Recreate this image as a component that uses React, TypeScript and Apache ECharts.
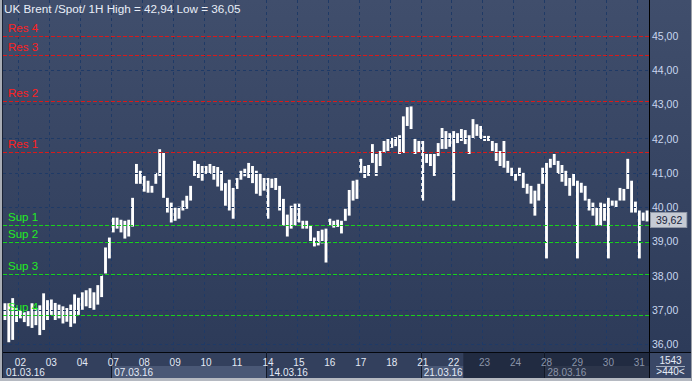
import React, { useEffect, useRef } from 'react';
import * as echarts from 'echarts';

// ---------- data ----------
const instrument = 'UK Brent /Spot/ 1H';
const days = ['01', '02', '03', '04', '07', '08', '09', '10', '11', '14', '15', '16', '17', '18', '21', '22', '23', '24', '28', '29', '30', '31'];
const barsPerDay = [4, 8, 8, 8, 8, 8, 8, 8, 8, 8, 8, 8, 8, 8, 8, 8, 8, 8, 8, 8, 8, 3];
const weekStartDays = ['01', '07', '14', '21', '28'];
const weekLabels = ['01.03.16', '07.03.16', '14.03.16', '21.03.16', '28.03.16'];
const highlightedWeeks = ['07', '21'];
const activeEndDay = '22';
const activeEndBar = 3;

const lows = [
  36.70, 36.05, 36.12, 36.64,
  36.75, 36.64, 36.52, 36.47, 36.55, 36.26, 36.41, 36.70,
  36.85, 36.70, 36.75, 36.60, 36.65, 36.50, 36.60, 36.85,
  37.00, 37.10, 37.05, 37.00, 37.15, 37.37, 38.06, 38.50,
  39.26, 39.37, 39.26, 39.08, 39.14, 39.43, 40.68, 40.68,
  40.45, 40.42, 40.42, 40.68, 40.91, 40.27, 39.84, 39.55,
  39.60, 39.66, 39.90, 39.95, 40.19, 40.91, 40.85, 40.77,
  40.97, 40.97, 40.80, 40.60, 40.48, 40.04, 39.90, 39.66,
  40.53, 40.80, 40.90, 40.85, 40.70, 40.39, 40.33, 40.48,
  39.66, 40.56, 40.50, 39.90, 39.46, 39.14, 39.37, 39.46,
  39.55, 39.37, 39.37, 38.97, 38.85, 38.88, 38.94, 38.38,
  39.45, 39.40, 39.42, 39.23, 39.60, 39.75, 40.19, 40.24,
  41.00, 40.85, 40.91, 41.29, 40.91, 41.20, 41.58, 41.64,
  41.73, 41.78, 41.55, 41.58, 42.37, 42.28, 41.55, 41.58,
  40.19, 41.29, 41.20, 40.91, 41.49, 41.70, 41.70, 41.76,
  40.19, 41.87, 41.93, 41.84, 41.55, 41.99, 42.08, 41.99,
  41.93, 41.93, 41.64, 41.35, 41.20, 41.15, 41.00, 40.91,
  40.77, 40.91, 40.56, 40.39, 40.10, 39.75, 40.19, 40.68,
  38.50, 41.15, 41.23, 40.97, 40.74, 40.62, 40.33, 40.62,
  38.50, 40.42, 40.19, 39.90, 39.75, 39.46, 39.46, 39.60,
  38.50, 40.04, 39.98, 40.19, 40.19, 40.53, 39.84, 39.84,
  38.50, 39.60, 39.58,
];

const highs = [
  37.19, 37.19, 37.34, 37.05,
  36.99, 36.93, 36.96, 37.19, 37.05, 37.13, 37.48, 37.28,
  37.30, 37.20, 37.15, 37.10, 37.05, 37.15, 37.45, 37.35,
  37.51, 37.57, 37.63, 37.51, 37.72, 38.00, 38.82, 39.11,
  39.69, 39.69, 39.63, 39.60, 39.63, 40.27, 41.26, 41.06,
  40.91, 40.77, 40.62, 41.00, 41.69, 41.58, 40.27, 40.13,
  39.98, 40.01, 40.19, 40.33, 40.62, 41.35, 41.26, 41.20,
  41.20, 41.26, 41.20, 41.17, 41.06, 40.70, 40.80, 40.56,
  40.85, 41.06, 41.12, 41.29, 41.20, 41.06, 40.97, 40.85,
  40.85, 40.83, 40.85, 40.62, 40.24, 39.78, 40.04, 40.10,
  40.10, 39.60, 39.60, 39.46, 39.11, 39.30, 39.34, 39.37,
  39.66, 39.60, 39.63, 39.60, 39.95, 40.50, 40.77, 40.80,
  41.41, 41.20, 41.23, 41.84, 41.55, 41.64, 41.93, 41.99,
  42.02, 42.05, 42.10, 42.65, 42.92, 42.94, 41.99, 41.93,
  41.93, 41.55, 41.55, 41.55, 41.87, 42.31, 42.22, 42.16,
  42.22, 42.16, 42.28, 42.25, 42.10, 42.57, 42.42, 42.37,
  42.08, 42.08, 41.93, 41.87, 41.64, 41.93, 41.35, 41.15,
  40.97, 41.15, 41.00, 40.68, 40.62, 40.48, 40.68, 41.15,
  41.29, 41.41, 41.55, 41.35, 41.23, 41.06, 40.85, 40.97,
  40.77, 40.71, 40.62, 40.24, 40.13, 39.98, 40.13, 40.10,
  40.27, 40.19, 40.19, 40.56, 40.53, 41.41, 40.77, 40.16,
  39.90, 39.84, 39.90,
];

const priceTicks = [36, 37, 38, 39, 40, 41, 42, 43, 44, 45];
const resistanceNames = ['Res 4', 'Res 3', 'Res 2', 'Res 1'];
const resistanceLevels = [45.0, 44.45, 43.1, 41.6];
const supportNames = ['Sup 1', 'Sup 2', 'Sup 3', 'Sup 4'];
const supportLevels = [39.47, 38.97, 38.04, 36.84];
const lastPrice = 39.62;
const footerCount = '1543';
const footerRange = '>440<';

// ---------- derived ----------
const cats: string[] = [];
const dayStart: Record<string, number> = {};
days.forEach((d, di) => {
  dayStart[d] = cats.length;
  for (let k = 0; k < barsPerDay[di]; k++) cats.push(d + '#' + k);
});
const catIndex = new Map(cats.map((c, i) => [c, i] as [string, number]));
const darkStart = dayStart[activeEndDay] + activeEndBar;
const weekStartIdx = weekStartDays.map((d) => dayStart[d]);
const fmt = (v: number) => v.toFixed(2).replace('.', ',');
const maxHigh = Math.max(...highs);
const minLow = Math.min(...lows);

const W = 692;
const H = 381;
const GRID_LEFT = 3;
const GRID_RIGHT = 43;
const GRID_BOTTOM = 29;
const FONT = 'Liberation Sans, Arial, sans-serif';
const plotRight = W - GRID_RIGHT;
const axisY = H - GRID_BOTTOM;
const stripBottom = H - 3;

export default function App() {
  const ref = useRef<HTMLDivElement>(null);

  useEffect(() => {
    const chart = echarts.init(ref.current!, null, { renderer: 'svg' });

    const levelLine = (names: string[], levels: number[], color: string, textColor: string) =>
      levels.map((v, i) => ({
        yAxis: v,
        name: names[i],
        lineStyle: { color, type: [4, 2], width: 1 },
        label: {
          show: true,
          position: 'insideStartTop',
          formatter: '{b}',
          color: textColor,
          fontSize: 11.5,
          fontFamily: FONT,
          distance: [5, 2],
        },
      }));

    const option: any = {
      animation: false,
      backgroundColor: 'transparent',
      title: {
        text: `${instrument} High = ${fmt(maxHigh)} Low = ${fmt(minLow)}`,
        left: 4,
        top: 2,
        padding: 0,
        textStyle: { color: '#e9eef8', fontSize: 11.7, fontWeight: 'normal', fontFamily: FONT },
      },
      grid: { left: GRID_LEFT, right: GRID_RIGHT, top: 0, bottom: GRID_BOTTOM, containLabel: false },
      xAxis: [
        {
          type: 'category',
          data: cats,
          boundaryGap: true,
          position: 'bottom',
          z: 5,
          axisLine: { show: true, lineStyle: { color: '#04070d', width: 1 } },
          axisTick: {
            show: true,
            interval: (i: number) => i > 0 && weekStartIdx.includes(i),
            length: 26,
            lineStyle: { color: '#111827', width: 1 },
          },
          axisLabel: {
            interval: (i: number, v: string) => i > 0 && v.endsWith('#0'),
            formatter: (v: string) => v.split('#')[0],
            color: (v: string) => ((catIndex.get(v) ?? 0) >= darkStart ? '#8a94a9' : '#e3eaf6'),
            fontSize: 10,
            fontFamily: FONT,
            margin: 5,
          },
          splitLine: {
            show: true,
            interval: (i: number, v: string) => i > 0 && v.endsWith('#0'),
            lineStyle: { color: '#1f3a66', type: [3, 3], width: 1 },
          },
        },
        {
          type: 'category',
          data: cats,
          boundaryGap: true,
          position: 'bottom',
          offset: 13,
          z: 5,
          axisLine: { show: false },
          axisTick: { show: false },
          splitLine: { show: false },
          axisLabel: {
            interval: (i: number) => weekStartIdx.includes(i),
            formatter: (v: string) => weekLabels[weekStartDays.indexOf(v.split('#')[0])] ?? '',
            color: (v: string) => ((catIndex.get(v) ?? 0) >= darkStart ? '#8a94a9' : '#e3eaf6'),
            align: 'left',
            fontSize: 10,
            fontFamily: FONT,
            margin: 2,
            padding: [0, 0, 0, 1],
          },
        },
      ],
      yAxis: {
        type: 'value',
        position: 'right',
        min: 35.766,
        max: 46.05,
        z: 5,
        axisLine: { show: true, lineStyle: { color: '#000000', width: 1 } },
        axisTick: { show: false },
        axisLabel: { show: false },
        splitLine: { show: false },
      },
      series: [
        {
          type: 'line',
          data: [],
          z: 1,
          silent: true,
          markLine: {
            silent: true,
            animation: false,
            symbol: ['none', 'none'],
            lineStyle: { color: '#1f3a66', type: [3, 3], width: 1 },
            label: {
              show: true,
              position: 'end',
              distance: 3,
              formatter: (p: any) => fmt(Number(p.value)),
              color: '#c9d7ef',
              fontSize: 10.5,
              fontFamily: FONT,
            },
            data: priceTicks.map((v) => ({ yAxis: v })),
          },
        },
        {
          type: 'custom',
          z: 3,
          clip: true,
          encode: { x: 0, y: [1, 2] },
          data: cats.map((c, i) => [i, lows[i], highs[i]]),
          renderItem: (params: any, api: any) => {
            const i = api.value(0);
            const lo = api.coord([i, api.value(1)]);
            const hi = api.coord([i, api.value(2)]);
            const bw = api.size([1, 0])[0] * 0.74;
            return {
              type: 'rect',
              shape: { x: lo[0] - bw / 2, y: hi[1], width: bw, height: Math.max(1, lo[1] - hi[1]) },
              style: { fill: '#ffffff' },
            };
          },
        },
        {
          type: 'line',
          data: [],
          z: 4,
          silent: true,
          markLine: {
            silent: true,
            animation: false,
            symbol: ['none', 'none'],
            data: [
              ...levelLine(resistanceNames, resistanceLevels, '#d81a1a', '#ff1f1f'),
              ...levelLine(supportNames, supportLevels, '#19d219', '#22ee22'),
              {
                yAxis: lastPrice,
                lineStyle: { color: 'rgba(0,0,0,0)', width: 0 },
                label: {
                  show: true,
                  position: 'end',
                  distance: 2,
                  formatter: fmt(lastPrice),
                  color: '#17223a',
                  backgroundColor: '#c6cbd4',
                  borderColor: '#8f97a6',
                  borderWidth: 1,
                  padding: [2, 4, 1, 5],
                  fontSize: 10.5,
                  fontFamily: FONT,
                },
              },
            ],
          },
        },
      ],
    };

    chart.setOption(option);

    const c0 = chart.convertToPixel({ xAxisIndex: 0 }, 0) as number;
    const c1 = chart.convertToPixel({ xAxisIndex: 0 }, 1) as number;
    const band = c1 - c0;
    const edge = (i: number) =>
      i >= cats.length ? plotRight : (chart.convertToPixel({ xAxisIndex: 0 }, i) as number) - band / 2;
    const darkX = edge(darkStart);
    const rowMid = axisY + 14;

    const graphics: any[] = [
      {
        type: 'rect',
        z: -100,
        silent: true,
        shape: { x: 0, y: 0, width: W, height: H },
        style: {
          fill: {
            type: 'linear', x: 0, y: 0, x2: 0, y2: 1,
            colorStops: [
              { offset: 0, color: '#404e6c' },
              { offset: 0.92, color: '#2d3b59' },
              { offset: 1, color: '#2b3857' },
            ],
          },
        },
      },
      {
        type: 'rect', z: -90, silent: true,
        shape: { x: 0, y: axisY, width: W, height: stripBottom - axisY },
        style: { fill: '#33405d' },
      },
    ];

    highlightedWeeks.forEach((d) => {
      const s = dayStart[d];
      const wi = weekStartDays.indexOf(d);
      const nextStart = wi + 1 < weekStartDays.length ? dayStart[weekStartDays[wi + 1]] : cats.length;
      const end = s < darkStart && nextStart > darkStart ? darkStart : nextStart;
      const x0 = edge(s);
      const x1 = edge(end);
      graphics.push({
        type: 'rect', z: -85, silent: true,
        shape: { x: x0, y: rowMid, width: x1 - x0, height: stripBottom - rowMid },
        style: { fill: '#4a5876' },
      });
    });

    graphics.push({
      type: 'rect', z: -80, silent: true,
      shape: { x: darkX, y: axisY, width: plotRight - darkX, height: stripBottom - axisY },
      style: { fill: 'rgba(8,12,26,0.40)' },
    });
    const lastWeek = dayStart[weekStartDays[weekStartDays.length - 1]];
    if (lastWeek >= darkStart) {
      const lx = edge(lastWeek);
      graphics.push({
        type: 'rect', z: -79, silent: true,
        shape: { x: lx, y: rowMid, width: plotRight - lx, height: stripBottom - rowMid },
        style: { fill: 'rgba(255,255,255,0.05)' },
      });
    }

    graphics.push(
      {
        type: 'rect', z: -78, silent: true,
        shape: { x: plotRight, y: axisY, width: W - plotRight, height: stripBottom - axisY },
        style: { fill: '#3a4867' },
      },
      {
        type: 'line', z: 10, silent: true,
        shape: { x1: plotRight + 0.5, y1: axisY, x2: plotRight + 0.5, y2: stripBottom },
        style: { stroke: '#05080f', lineWidth: 1 },
      },
      {
        type: 'line', z: 10, silent: true,
        shape: { x1: plotRight, y1: axisY + 0.5, x2: W, y2: axisY + 0.5 },
        style: { stroke: '#05080f', lineWidth: 1 },
      },
      {
        type: 'text', z: 10, silent: true,
        x: (plotRight + W) / 2, y: axisY + 8,
        style: { text: footerCount, fill: '#e6ecf7', fontSize: 10, fontFamily: FONT, align: 'center', verticalAlign: 'middle' },
      },
      {
        type: 'line', z: 10, silent: true,
        shape: { x1: plotRight + 7, y1: axisY + 14.5, x2: W - 7, y2: axisY + 14.5 },
        style: { stroke: '#a5aec0', lineWidth: 1 },
      },
      {
        type: 'text', z: 10, silent: true,
        x: (plotRight + W) / 2, y: axisY + 19.5,
        style: { text: footerRange, fill: '#e6ecf7', fontSize: 10, fontFamily: FONT, align: 'center', verticalAlign: 'middle' },
      },
      {
        type: 'rect', z: 20, silent: true,
        shape: { x: 0, y: 0, width: 2, height: H },
        style: { fill: '#a9adb5' },
      },
      {
        type: 'rect', z: 20, silent: true,
        shape: { x: 2, y: 0, width: 1, height: H },
        style: { fill: '#1a2234' },
      },
      {
        type: 'rect', z: 20, silent: true,
        shape: { x: 0, y: stripBottom, width: W, height: H - stripBottom },
        style: { fill: '#b5b9c1' },
      },
      {
        type: 'rect', z: 20, silent: true,
        shape: { x: W - 1, y: 0, width: 1, height: H },
        style: { fill: '#9a9fa8' },
      }
    );

    chart.setOption({ graphic: graphics });

    return () => chart.dispose();
  }, []);

  return <div ref={ref} style={{ position: 'absolute', left: 0, top: 0, width: W, height: H }} />;
}
